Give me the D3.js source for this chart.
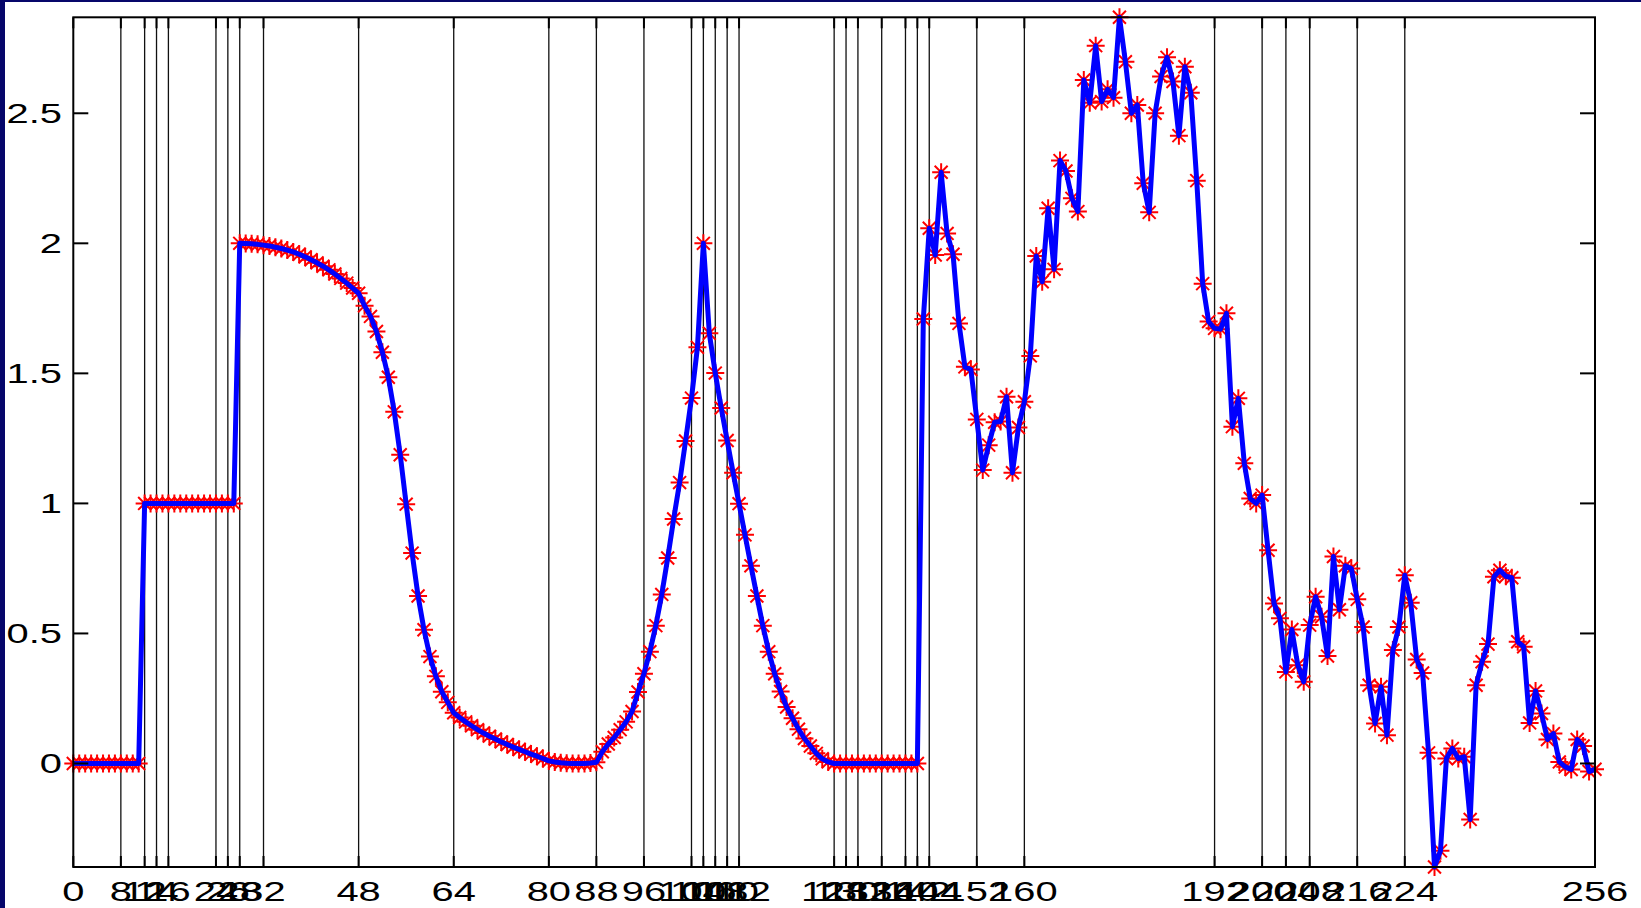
<!DOCTYPE html>
<html>
<head>
<meta charset="utf-8">
<script src="https://cdn.jsdelivr.net/npm/d3@7"></script>
<style>
    body { margin: 0; background: #fff; }
    svg { display: block; }
    text { font-family: "Liberation Sans", Arial, Helvetica, sans-serif; fill: #000; }
</style>
</head>
<body>
<svg id="chart"></svg>
<script>

// Data: one sample per integer position 0..256
var stepPart = [0, 0, 0, 0, 0, 0, 0, 0, 0, 0, 0, 0,
    1, 1, 1, 1, 1, 1, 1, 1, 1, 1, 1, 1, 1, 1, 1, 1];                                   // 0..27
var fallPart = [2.0, 1.999, 1.998, 1.996, 1.993, 1.99, 1.985, 1.98, 1.974, 1.967,
    1.958, 1.948, 1.937, 1.925, 1.912, 1.898, 1.882, 1.865, 1.847, 1.828,
    1.808, 1.76, 1.719, 1.661, 1.581, 1.485, 1.352, 1.187, 0.997, 0.809,
    0.644, 0.514, 0.411, 0.335, 0.276, 0.235, 0.195, 0.177, 0.16, 0.145,
    0.13, 0.117, 0.105, 0.094, 0.083, 0.073, 0.063, 0.054, 0.045, 0.036,
    0.028, 0.019, 0.01, 0.006, 0.003, 0.001, 0, 0, 0, 0.002];                          // 28..87
var bumpPart = [0.005, 0.045, 0.075, 0.1, 0.13, 0.16, 0.2, 0.275, 0.345, 0.43,
    0.53, 0.65, 0.79, 0.94, 1.08, 1.24, 1.405, 1.6, 2.0,
    1.654, 1.501, 1.367, 1.242, 1.118, 0.999, 0.879, 0.76, 0.644, 0.53,
    0.43, 0.345, 0.277, 0.217, 0.174, 0.132, 0.096, 0.067, 0.039, 0.018, 0.006, 0]; // 88..128
var zeroPart = [0, 0, 0, 0, 0, 0, 0, 0, 0, 0, 0, 0, 0, 0];                           // 129..142
var noisePart = [1.709, 2.058, 1.955, 2.273, 2.038, 1.958, 1.692, 1.525, 1.515, 1.323,
    1.128, 1.224, 1.312, 1.315, 1.41, 1.118, 1.292, 1.391, 1.567, 1.951,
    1.852, 2.135, 1.9, 2.318, 2.278, 2.173, 2.122, 2.628, 2.54, 2.76,
    2.545, 2.592, 2.56, 2.869, 2.698, 2.5, 2.532, 2.231, 2.119, 2.5,
    2.641, 2.715, 2.622, 2.414, 2.679, 2.579, 2.241, 1.845, 1.699, 1.673,
    1.67, 1.731, 1.295, 1.404, 1.154, 1.019, 1.0, 1.032, 0.82, 0.615,
    0.558, 0.352, 0.515, 0.378, 0.314, 0.532, 0.641, 0.564, 0.413, 0.796,
    0.591, 0.76, 0.75, 0.631, 0.525, 0.301, 0.154, 0.295, 0.109, 0.436,
    0.525, 0.724, 0.618, 0.4, 0.348, 0.041, -0.398, -0.336, 0.019, 0.058,
    0.019, 0.026, -0.215, 0.301, 0.391, 0.459, 0.718, 0.743, 0.72, 0.714,
    0.468, 0.449, 0.156, 0.279, 0.192, 0.092, 0.115, 0.006, -0.013, -0.023,
    0.092, 0.067, -0.031, -0.022];                                                       // 143..256
var xTicks = [0, 8, 12, 14, 16, 24, 26, 28, 32, 48, 64, 80, 88, 96, 104, 106, 108, 110, 112,
    128, 130, 132, 136, 140, 142, 144, 152, 160, 192, 200, 204, 208, 216, 224, 256];
var yTicks = [0, 0.5, 1, 1.5, 2, 2.5];

var values = stepPart.concat(fallPart, bumpPart, zeroPart, noisePart);
var points = values.map(function (v, i) { return { x: i, y: v }; });

// Size of the page and the plot box (window.top is read-only, so no bare "top")
var width = 1641;
var height = 908;
var boxLeft = 73.3, boxRight = 1595, boxTop = 17.3, boxBottom = 867;
var stretch = 1.4;   // tick labels are drawn wide

var svg = d3.select("#chart").attr("width", width).attr("height", height);

// Navy frame on the left and top edge of the figure
svg.append("rect").attr("x", 0).attr("y", 0).attr("width", 5).attr("height", height).attr("fill", "#06066a");
svg.append("rect").attr("x", 0).attr("y", 0).attr("width", width).attr("height", 2).attr("fill", "#06066a");

var x = d3.scaleLinear().domain([0, 256]).range([boxLeft, boxRight]);
var y = d3.scaleLinear().domain(d3.extent(values)).range([boxBottom, boxTop]);

// Vertical grid at every x tick
svg.append("g").selectAll("line").data(xTicks.filter(function (t) { return t > 0 && t < 256; }))
    .enter().append("line")
    .attr("x1", function (d) { return x(d); }).attr("x2", function (d) { return x(d); })
    .attr("y1", boxTop).attr("y2", boxBottom)
    .attr("stroke", "#111").attr("stroke-width", 1.3);

// Red asterisk markers (plus and cross) for every sample
var r = 9, rd = r * 0.72;
var starPath = "M" + (-r) + ",0H" + r + "M0," + (-r) + "V" + r +
    "M" + (-rd) + "," + (-rd) + "L" + rd + "," + rd + "M" + (-rd) + "," + rd + "L" + rd + "," + (-rd);
svg.append("g").selectAll("path").data(points).enter().append("path")
    .attr("transform", function (d) { return "translate(" + x(d.x) + "," + y(d.y) + ")"; })
    .attr("d", starPath)
    .attr("stroke", "#ff0000").attr("stroke-width", 2).attr("fill", "none");

// Blue line on top
var line = d3.line().x(function (d) { return x(d.x); }).y(function (d) { return y(d.y); });
svg.append("path").datum(points)
    .attr("d", line)
    .attr("fill", "none").attr("stroke", "#0000ff").attr("stroke-width", 5)
    .attr("stroke-linejoin", "round");

// Axes box
svg.append("rect").attr("x", boxLeft).attr("y", boxTop)
    .attr("width", boxRight - boxLeft).attr("height", boxBottom - boxTop)
    .attr("fill", "none").attr("stroke", "#000").attr("stroke-width", 2);

// X ticks point inward on top and bottom
var xt = svg.append("g").selectAll("g").data(xTicks).enter().append("g");
xt.append("line").attr("x1", function (d) { return x(d); }).attr("x2", function (d) { return x(d); })
    .attr("y1", boxTop).attr("y2", boxTop + 11).attr("stroke", "#000").attr("stroke-width", 2);
xt.append("line").attr("x1", function (d) { return x(d); }).attr("x2", function (d) { return x(d); })
    .attr("y1", boxBottom).attr("y2", boxBottom - 11).attr("stroke", "#000").attr("stroke-width", 2);
xt.append("text")
    .attr("transform", function (d) { return "translate(" + x(d) + "," + 901 + ") scale(" + stretch + ",1)"; })
    .attr("text-anchor", "middle")
    .style("font-size", "28.5px")
    .text(function (d) { return d; });

// Y ticks on both sides, labels on the left
var yt = svg.append("g").selectAll("g").data(yTicks).enter().append("g");
yt.append("line").attr("x1", boxLeft).attr("x2", boxLeft + 15)
    .attr("y1", function (d) { return y(d); }).attr("y2", function (d) { return y(d); })
    .attr("stroke", "#000").attr("stroke-width", 2);
yt.append("line").attr("x1", boxRight).attr("x2", boxRight - 15)
    .attr("y1", function (d) { return y(d); }).attr("y2", function (d) { return y(d); })
    .attr("stroke", "#000").attr("stroke-width", 2);
yt.append("text")
    .attr("transform", function (d) { return "translate(" + 62 + "," + (y(d) + 10) + ") scale(" + stretch + ",1)"; })
    .attr("text-anchor", "end")
    .style("font-size", "28.5px")
    .text(function (d) { return d; });

</script>
</body>
</html>
